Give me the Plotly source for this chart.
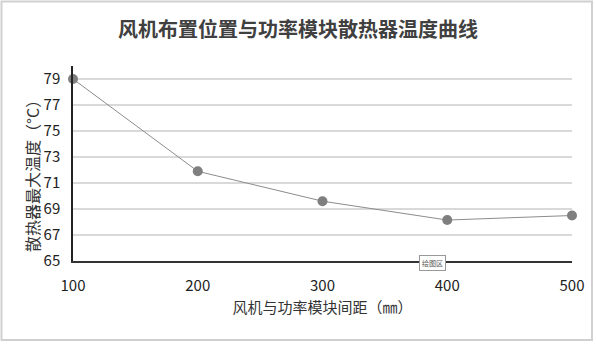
import plotly.graph_objects as go

spacing_mm = [100, 200, 300, 400, 500]
max_temp_c = [79.0, 71.9, 69.6, 68.15, 68.5]
y_ticks = [65, 67, 69, 71, 73, 75, 77, 79]

W, H = 596, 345
ml, mr, mt, mb = 73, 24, 66, 84
pw, ph = W - ml - mr, H - mt - mb

def px(x):
    return (x - ml) / pw

def py(y):
    return (H - mb - y) / ph

font = "Noto Sans CJK SC, Noto Sans, sans-serif"

fig = go.Figure()
fig.add_trace(go.Scatter(
    x=spacing_mm, y=max_temp_c, mode="lines+markers",
    line=dict(color="#8c8c8c", width=1),
    marker=dict(color="#7f7f7f", size=10),
    showlegend=False, cliponaxis=False,
))

fig.update_layout(
    width=W, height=H,
    margin=dict(l=ml, r=mr, t=mt, b=mb),
    paper_bgcolor="white", plot_bgcolor="white",
    font=dict(family=font, color="#404040", size=14),
    title=dict(text="风机布置位置与功率模块散热器温度曲线", x=0.5, xanchor="center",
               y=1 - 30 / H, yanchor="middle",
               font=dict(size=20, color="#404040", family=font, weight="bold")),
    xaxis=dict(range=[100, 500], tickvals=spacing_mm, showgrid=False,
               showline=True, linecolor="#333333", linewidth=1.5,
               ticks="", ticklabelstandoff=10,
               tickfont=dict(size=15, color="#222222"),
               title=dict(text="风机与功率模块间距（㎜）", standoff=9,
                          font=dict(size=15, color="#333333")),
               zeroline=False),
    yaxis=dict(range=[65, 80], tickvals=y_ticks, showgrid=True,
               gridcolor="#d9d9d9", gridwidth=1.5,
               showline=True, linecolor="#222222", linewidth=1.5,
               ticks="", ticklabelstandoff=8,
               tickfont=dict(size=15, color="#222222"),
               zeroline=False),
    shapes=[dict(type="rect", xref="paper", yref="paper",
                 x0=px(1.5), x1=px(592), y0=py(340), y1=py(1.5),
                 line=dict(color="#d0d0d0", width=2), fillcolor="rgba(0,0,0,0)")],
    annotations=[
        dict(text="散热器最大温度（°C）", xref="paper", yref="paper",
             x=px(32), y=py(172), xanchor="center", yanchor="middle",
             textangle=-90, showarrow=False,
             font=dict(size=16, color="#333333", family=font)),
        dict(text="绘图区", xref="paper", yref="paper",
             x=px(432), y=py(263), xanchor="center", yanchor="middle",
             showarrow=False,
             font=dict(size=7, color="#555555", family=font),
             bgcolor="white", bordercolor="#999999", borderwidth=1, borderpad=2),
    ],
)

fig.write_html("out.html")
